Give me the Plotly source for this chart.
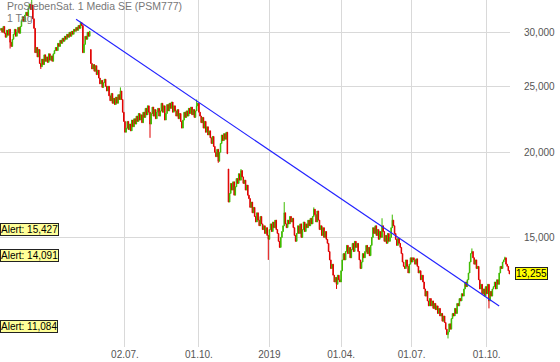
import math
import pandas as pd
import plotly.graph_objects as go

title_text = "ProSiebenSat. 1 Media SE (PSM777)"
period_text = "1 Tag"
start_date = "2018-01-25"
end_date = "2019-10-29"
exchange_holidays = ["2018-03-30", "2018-04-02", "2018-05-01", "2018-12-24", "2018-12-25",
                     "2018-12-26", "2018-12-31", "2019-01-01", "2019-04-19", "2019-04-22",
                     "2019-05-01"]

# daily closing prices (EUR)
closes = [
    30.4, 30.0, 30.6, 29.9, 29.5, 30.2, 29.7, 30.3, 29.0, 28.6,
    29.3, 29.8, 30.3, 29.6, 30.0, 30.5, 29.9, 30.6, 31.2, 31.6,
    31.1, 31.8, 32.1, 31.7, 32.6, 33.0, 32.4, 32.9, 31.4, 30.4,
    28.0, 28.5, 27.6, 28.3, 27.0, 26.7, 27.4, 26.9, 27.8, 27.2,
    27.6, 27.1, 27.9, 27.3, 27.7, 27.2, 27.9, 28.2, 28.5, 28.2,
    28.9, 28.6, 29.2, 28.9, 29.4, 29.1, 29.6, 29.3, 29.8, 29.5,
    30.0, 29.6, 30.1, 29.8, 30.3, 30.1, 30.5, 30.2, 30.7, 30.4,
    31.0, 30.7, 28.0, 28.8, 29.6, 29.3, 30.0, 29.6, 30.1, 27.0,
    26.5, 26.9, 26.3, 26.8, 26.0, 26.4, 25.7, 25.2, 25.5, 24.9,
    25.3, 25.6, 25.0, 24.6, 25.0, 24.2, 23.8, 24.4, 23.6, 24.0,
    23.5, 24.1, 23.6, 24.3, 23.9, 24.6, 23.9, 22.9, 22.2, 21.4,
    21.7, 22.2, 21.6, 22.0, 21.5, 22.3, 21.8, 22.4, 22.0, 22.6,
    22.2, 22.8, 22.3, 22.7, 22.1, 22.9, 22.5, 23.2, 22.7, 23.4,
    22.9, 22.0, 22.8, 23.3, 22.6, 23.1, 22.4, 22.9, 23.2, 22.6,
    23.0, 23.6, 22.9, 23.4, 22.3, 22.8, 23.5, 23.0, 23.6, 23.2,
    23.7, 22.9, 23.4, 23.0, 22.6, 23.1, 22.4, 22.8, 22.2, 21.7,
    22.3, 22.9, 22.5, 23.0, 22.6, 23.2, 22.8, 23.3, 22.7, 23.1,
    22.5, 23.0, 23.4, 23.6, 22.9, 22.6, 22.1, 22.5, 21.7, 22.2,
    21.4, 21.8, 21.2, 21.5, 21.0, 20.6, 21.1, 20.4, 20.0, 19.7,
    20.2, 19.4, 20.0, 20.6, 21.2, 20.8, 21.3, 20.9, 21.4, 19.9,
    16.9, 17.4, 18.0, 17.6, 18.1, 17.3, 17.8, 18.3, 18.0, 18.6,
    18.2, 18.8, 18.4, 18.0, 18.2, 17.6, 17.9, 17.3, 17.1, 16.6,
    16.9, 16.3, 16.6, 16.1, 15.8, 16.3, 15.9, 15.6, 16.1, 15.7,
    15.4, 15.6, 15.2, 15.5, 15.1, 14.9, 15.4, 15.7, 15.3, 15.8,
    15.5, 15.9, 15.4, 15.2, 14.8, 14.5, 15.0, 15.3, 15.6, 16.3,
    15.7, 15.5, 15.9, 15.7, 16.1, 15.8, 16.0, 15.5, 15.1, 14.8,
    15.2, 15.6, 15.2, 15.7, 15.0, 15.4, 15.8, 15.3, 15.7, 15.5,
    15.9, 15.6, 16.0, 15.7, 16.1, 16.5, 16.2, 15.8, 16.4, 15.9,
    15.4, 15.6, 15.1, 15.5, 15.0, 15.3, 14.9, 14.7, 14.3, 13.9,
    13.5, 13.7, 13.2, 12.9, 13.1, 12.8, 13.2, 13.0, 12.9, 13.4,
    13.9, 14.2, 13.9, 14.3, 14.6, 14.2, 14.5, 14.0, 14.4, 14.7,
    14.3, 14.8, 14.5, 14.7, 14.3, 13.9, 13.5, 13.8, 14.2, 14.0,
    14.3, 14.6, 14.2, 14.5, 14.1, 14.6, 15.0, 15.5, 15.2, 15.6,
    15.1, 15.4, 14.9, 15.3, 15.0, 15.6, 15.3, 14.8, 15.1, 14.7,
    15.2, 14.8, 15.0, 15.5, 15.9, 15.6, 15.2, 14.9, 14.6, 14.95,
    14.7, 14.5, 14.2, 13.8, 13.6, 13.5, 13.9, 13.6, 13.3, 13.7,
    14.0, 13.8, 14.0, 13.9, 13.7, 13.95, 13.6, 13.3, 13.4, 13.0,
    13.2, 12.9, 12.6, 12.3, 12.5, 12.1, 11.9, 12.2, 11.9, 12.1,
    11.8, 12.0, 11.75, 11.9, 11.6, 11.8, 11.5, 11.6, 11.3, 11.5,
    11.25, 11.0, 10.8, 10.9, 11.2, 11.0, 11.4, 11.6, 11.5, 11.8,
    11.6, 12.0, 11.9, 12.2, 12.1, 12.4, 12.3, 12.6, 12.9, 12.7,
    13.0, 13.3, 13.8, 14.2, 14.3, 14.0, 13.7, 13.9, 13.5, 13.6,
    13.0, 12.6, 12.8, 12.4, 12.6, 12.3, 12.7, 12.4, 12.8, 12.1,
    12.5, 12.3, 12.6, 12.7, 12.9, 12.6, 13.0, 12.8, 13.3, 13.6,
    13.5, 13.8, 13.9, 14.0, 13.7, 13.6, 13.4, 13.255,
]
first_open = 30.2

# opening gaps
gap_days = [79, 200]
gap_opens = [28.3, 18.9]

# notable wicks
high_days = [27, 70, 105, 172, 211, 249, 275, 335, 344, 414, 443]
high_values = [33.5, 31.1, 24.9, 23.9, 18.9, 16.9, 16.6, 16.0, 16.2, 14.45, 14.05]
low_days = [8, 35, 131, 191, 235, 295, 393, 429]
low_values = [28.4, 26.5, 21.0, 19.3, 13.9, 12.6, 10.66, 11.8]

tick_dates = ["2018-07-02", "2018-10-01", "2019-01-02", "2019-04-01", "2019-07-01", "2019-10-01"]
tick_labels = ["02.07.", "01.10.", "2019", "01.04.", "01.07.", "01.10."]
y_ticks = [15, 20, 25, 30]

alert_levels = [15.427, 14.091, 11.084]
last_price = 13.255

trend_dates = ["2018-05-02", "2019-10-16"]
trend_values = [31.35, 11.9]

GREEN = "#3dbb00"
RED = "#e00000"

dates = pd.bdate_range(start_date, end_date)
dates = dates[~dates.isin(pd.to_datetime(exchange_holidays))]

def idx(d):
    return int(dates.get_loc(pd.Timestamp(d)))

n = len(closes)
x = list(range(n))
opens = [first_open] + closes[:-1]
for d, o in zip(gap_days, gap_opens):
    opens[d] = o
highs = [max(o, c) for o, c in zip(opens, closes)]
lows = [min(o, c) for o, c in zip(opens, closes)]
for d, h in zip(high_days, high_values):
    highs[d] = max(highs[d], h)
for d, l in zip(low_days, low_values):
    lows[d] = min(lows[d], l)

def de(v):
    return f"{v:.3f}".replace(".", ",")

fig = go.Figure()
fig.add_trace(go.Candlestick(
    x=x, open=opens, high=highs, low=lows, close=closes,
    increasing=dict(line=dict(color=GREEN, width=1), fillcolor=GREEN),
    decreasing=dict(line=dict(color=RED, width=1), fillcolor=RED),
    whiskerwidth=0, hoverinfo="skip", showlegend=False,
))
fig.add_trace(go.Scatter(
    x=[idx(d) for d in trend_dates], y=trend_values, mode="lines",
    line=dict(color="#2323ff", width=1.2), hoverinfo="skip", showlegend=False,
))

shapes = []
annotations = []
for v in alert_levels:
    shapes.append(dict(type="line", xref="paper", x0=0, x1=1, yref="y",
                       y0=math.log10(v), y1=math.log10(v),
                       line=dict(color="#858585", width=1), layer="above"))
    annotations.append(dict(xref="paper", x=0, xanchor="left", yref="y", y=math.log10(v),
                            yanchor="middle", text="Alert: " + de(v), showarrow=False,
                            bgcolor="#ffff99", bordercolor="#222", borderwidth=1, borderpad=0,
                            font=dict(size=10, color="#000")))
annotations.append(dict(xref="paper", x=1, xanchor="left", xshift=5, yref="y",
                        y=math.log10(last_price), yanchor="middle", text=de(last_price),
                        showarrow=False, bgcolor="#ffff00", bordercolor="#222", borderwidth=1,
                        borderpad=0, font=dict(size=10, color="#000")))
annotations.append(dict(xref="paper", x=0, xanchor="left", xshift=5, yref="paper", y=1,
                        yanchor="top", yshift=2, text=title_text, showarrow=False,
                        font=dict(size=10.5, color="#777")))
annotations.append(dict(xref="paper", x=0, xanchor="left", xshift=5, yref="paper", y=1,
                        yanchor="top", yshift=-10, text=period_text, showarrow=False,
                        font=dict(size=10.5, color="#777")))

top_px, bottom_px = 1.5245, 1.0152
fig.update_layout(
    width=560, height=362,
    margin=dict(l=0, r=50, t=0, b=15),
    paper_bgcolor="white", plot_bgcolor="white",
    separators=",.",
    font=dict(family="Liberation Sans, Arial, sans-serif", size=10, color="#555"),
    shapes=shapes, annotations=annotations,
    xaxis=dict(range=[-0.88, 447.5], tickmode="array",
               tickvals=[idx(d) for d in tick_dates], ticktext=tick_labels,
               showgrid=True, gridcolor="#d9d9d9", gridwidth=1, zeroline=False,
               showline=False, ticks="", rangeslider=dict(visible=False),
               tickfont=dict(size=10, color="#555"), fixedrange=True),
    yaxis=dict(type="log", side="right", range=[bottom_px, top_px],
               tickmode="array", tickvals=y_ticks, tickformat=".3f",
               showgrid=True, gridcolor="#d9d9d9", gridwidth=1, zeroline=False,
               showline=False, ticks="", ticklabelstandoff=13,
               tickfont=dict(size=10, color="#555"), fixedrange=True),
)

fig.write_html("out.html")
